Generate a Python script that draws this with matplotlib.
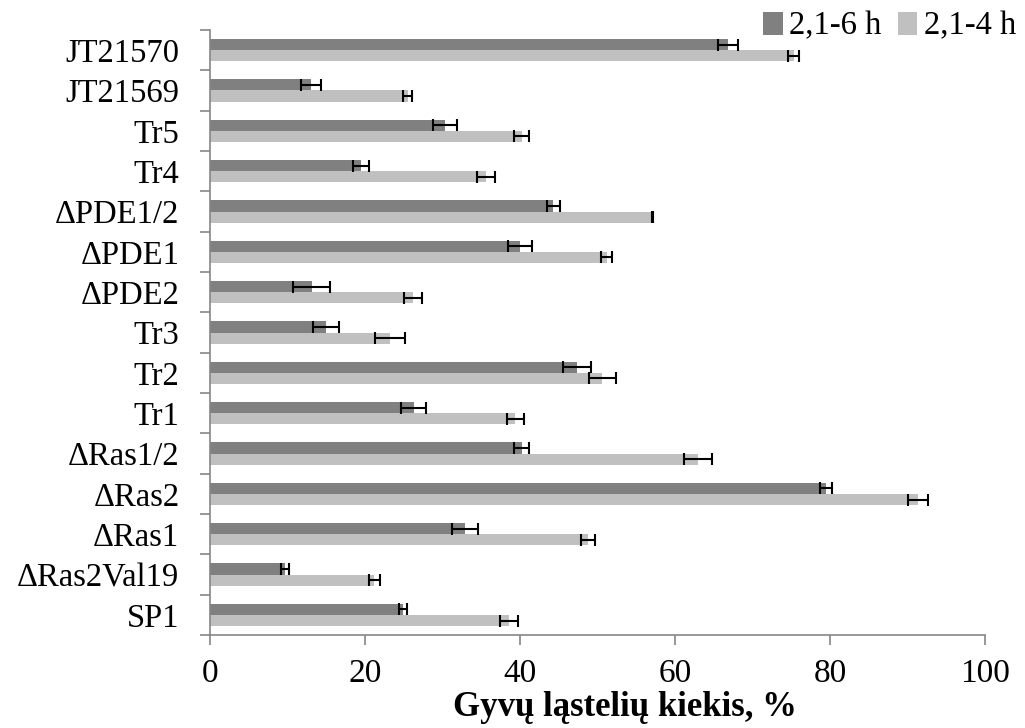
import matplotlib.pyplot as plt
import numpy as np
from matplotlib.patches import Patch

plt.rcParams['font.family'] = ['Liberation Serif', 'DejaVu Serif']

# strains, listed bottom to top
strains = ['SP1', 'ΔRas2Val19', 'ΔRas1', 'ΔRas2', 'ΔRas1/2', 'Tr1', 'Tr2',
           'Tr3', 'ΔPDE2', 'ΔPDE1', 'ΔPDE1/2', 'Tr4', 'Tr5', 'JT21569', 'JT21570']

# viable cells, % (2,1-6 h)
vals_6h = [24.9, 9.7, 32.9, 79.5, 40.2, 26.3, 47.3,
           15.0, 13.1, 40.0, 44.3, 19.5, 30.3, 13.0, 66.8]
err_6h = [0.55, 0.5, 1.65, 0.8, 1.0, 1.6, 1.8,
          1.7, 2.4, 1.6, 0.8, 1.0, 1.55, 1.3, 1.3]

# viable cells, % (2,1-4 h)
vals_4h = [38.6, 21.2, 48.8, 91.4, 63.0, 39.4, 50.6,
           23.2, 26.2, 51.2, 57.1, 35.6, 40.2, 25.5, 75.3]
err_4h = [1.15, 0.7, 0.9, 1.3, 1.8, 1.1, 1.75,
          1.9, 1.2, 0.7, 0.1, 1.2, 0.95, 0.6, 0.7]

series_labels = ['2,1-6 h', '2,1-4 h']
colors = ['#808080', '#c0c0c0']
x_ticks = [0, 20, 40, 60, 80, 100]

fig = plt.figure(figsize=(10.25, 7.28), dpi=100)
ax = fig.add_axes([0.2049, 0.1277, 0.7561, 0.8311])

y = np.arange(len(strains))
h = 0.28
err_kw = dict(ecolor='black', elinewidth=1.5, capsize=4.5, capthick=1.5)
ax.barh(y + h / 2, vals_6h, height=h, color=colors[0], xerr=err_6h,
        error_kw=err_kw, zorder=2)
ax.barh(y - h / 2, vals_4h, height=h, color=colors[1], xerr=err_4h,
        error_kw=err_kw, zorder=2)

ax.set_xlim(0, 100)
ax.set_ylim(-0.5, len(strains) - 0.5)
ax.set_xticks(x_ticks)
ax.set_yticks(y)
ax.set_yticklabels(strains)
ax.set_yticks(np.arange(len(strains) + 1) - 0.5, minor=True)

for side in ['top', 'right']:
    ax.spines[side].set_visible(False)
for side in ['left', 'bottom']:
    ax.spines[side].set_color('#868686')
    ax.spines[side].set_linewidth(1.2)

ax.tick_params(axis='y', which='major', length=0, pad=22, labelsize=23.5)
ax.tick_params(axis='y', which='minor', length=7, width=1.2, color='#868686')
ax.tick_params(axis='x', which='major', length=7, width=1.2, color='#868686',
               pad=10, labelsize=24)

ax.set_xlabel('Gyvų ląstelių kiekis, %', fontsize=25, fontweight='bold')
ax.xaxis.set_label_coords(0.535, -0.092)

handles = [Patch(facecolor=c, label=l) for c, l in zip(colors, series_labels)]
fig.legend(handles=handles, loc='upper right', bbox_to_anchor=(1.02, 1.025),
           ncol=2, frameon=False, fontsize=23.5, handlelength=0.6,
           handleheight=0.7, handletextpad=0.2, columnspacing=0.5)

fig.savefig('out.png', dpi=100)
